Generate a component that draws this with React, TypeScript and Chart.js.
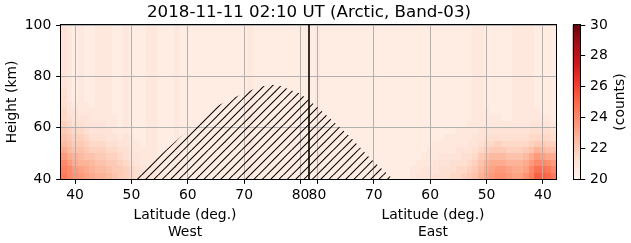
import React, { useEffect, useRef } from "react";
import { Chart, registerables } from "chart.js";

Chart.register(...registerables);

// ---------------- text ----------------
const TITLE = "2018-11-11 02:10 UT (Arctic, Band-03)";
const X_LABEL = "Latitude (deg.)";
const WEST_LABEL = "West";
const EAST_LABEL = "East";
const Y_LABEL = "Height (km)";
const COLORBAR_LABEL = "(counts)";

// ---------------- data ----------------
// Along-track axis: starts at EDGE_LAT (west), climbs to TURN_LAT, goes down to EDGE_LAT (east)
const EDGE_LAT = 37.5;
const TURN_LAT = 81.5;
const WEST_TICK_LATS = [40, 50, 60, 70, 80];
const EAST_TICK_LATS = [80, 70, 60, 50, 40];
const HEIGHT_TICKS = [40, 60, 80, 100];
const HEIGHT_RANGE = [40, 100];
const COUNT_TICKS = [20, 22, 24, 26, 28, 30];
const COUNT_RANGE = [20, 30];

// Heatmap cells: 1 deg along track, 2.5 km in height, rows from 100 km down to 40 km.
// Each char is a level: counts = 20 + index * 0.25
const CELL_DEG = 1;
const CELL_KM = 2.5;
const LEVEL_CODES = "0123456789ABCDEFGHIJKLMNOP";
const LEVEL_STEP = 0.25;

// west columns (track 0..16)
const HEAT_WEST = [
  "4323223332232223",
  "4323223332232223",
  "4323223332232223",
  "4323223332232223",
  "4323223332232223",
  "4323223332232223",
  "4323223332232223",
  "4323223332232223",
  "4323223332232223",
  "4323223332232223",
  "5323223332232223",
  "5323223332232223",
  "5433323332232223",
  "6443333332232223",
  "6544433333232223",
  "7655444433232223",
  "8766544443332223",
  "9877655544343223",
  "A988766655443323",
  "CA99877766554333",
  "ECBA998877654433",
  "GECBBA9988765433",
  "HGEDCBAA98876543",
  "IGFEDCBBA9876544",
];

// middle columns (track 16..62)
const HEAT_MID = [
  "3222 3 222222222222 3 22222222222 3 2222222222222222",
  "3222 3 222222222222 3 22222222222 3 2222222222222222",
  "3222 3 222222222222 3 22222222222 3 2222222222222222",
  "3222 3 222222222222 3 22222222222 3 2222222222222222",
  "3222 3 222222222222 3 22222222222 3 2222222222222222",
  "3222 3 222222222222 3 22222222222 3 2222222222222222",
  "3222 3 222222222222 3 22222222222 3 2222222222222222",
  "3222 3 222222222222 3 22222222222 3 2222222222222222",
  "3222 3 222222222222 3 22222222222 3 2222222222222222",
  "3222 3 222222222222 3 22222222222 3 2222222222222222",
  "3222 3 222222222222 3 22222222222 3 2222222222222222",
  "3222 3 222222222222 3 22222222222 3 2222222222222222",
  "3222 3 222222222222 3 22222222222 3 2222222222222222",
  "3222 3 222222222222 3 22222222222 3 2222222222222222",
  "3222 3 222222222222 3 22222222222 3 2222222222222222",
  "3222 3 222222222222 3 22222222222 3 2222222222222222",
  "3222 3 222222222222 3 22222222222 3 2222222222222222",
  "3222 3 222222222222 3 22222222222 3 2222222222222222",
  "3222 3 222222222222 3 22222222222 3 2222222222222222",
  "3222 3 222222222222 3 22222222222 3 2222222222222222",
  "3222 3 222222222222 3 22222222222 3 2222222222222222",
  "3222 3 222222222222 3 22222222222 3 2222222222222222",
  "3322 3 222222222222 3 22222222222 3 2222222222222222",
  "4332 3 222222222222 3 22222222222 3 2222222222222222",
];

// east columns (track 62..88)
const HEAT_EAST = [
  "22222222222 33 22222 3333 2222",
  "22222222222 33 22222 3333 2222",
  "22222222222 33 22222 3333 2222",
  "22222222222 33 22222 3333 2222",
  "22222222222 33 22222 3333 2222",
  "22222222222 33 22222 3333 2222",
  "22222222222 33 22222 3333 2222",
  "22222222222 33 22222 3333 2222",
  "22222222222 33 22222 3333 2222",
  "22222222222 33 22222 3333 2222",
  "22222222222 33 22222 3333 2222",
  "22222222222 33 22222 3333 2222",
  "22222222222 33 22222 3333 2222",
  "2222222222 2333222233333222",
  "2222222222 2333332233333332",
  "2222222222 3333333333344443",
  "2222222233 3344444444455554",
  "2222223333 3445555555566665",
  "2222333333 4456676666678877",
  "2223333344 456788877789BA99",
  "2233344445 5689AAA999ACEDCC",
  "2333444555 679BCCCBBBCEGGFE",
  "3344455566 78ACDEEDCCDGJJIG",
  "3444555667 89BDEFFEDDFHLLKI",
];

// hatched (masked) region outline: along-track degrees, height km
const HATCH_TRACK = [12.7, 20, 27, 30, 33, 35.5, 37.5, 39, 40.6, 42.2, 44.2, 47, 51.3, 54.8, 58.9];
const HATCH_KM = [40, 54, 67.7, 71, 74, 76, 76.7, 76.2, 74.8, 73.5, 70.4, 65, 56.5, 48.2, 40];

// ---------------- derived ----------------
const westTrack = (lat: number) => lat - EDGE_LAT;
const eastTrack = (lat: number) => 2 * TURN_LAT - EDGE_LAT - lat;
const TURN_TRACK = TURN_LAT - EDGE_LAT;
const TRACK_MAX = 2 * (TURN_LAT - EDGE_LAT);
const X_TICK_VALUES = [...WEST_TICK_LATS.map(westTrack), ...EAST_TICK_LATS.map(eastTrack)];
const X_TICK_LABELS = [...WEST_TICK_LATS, ...EAST_TICK_LATS].map(String);
const N_COLS = Math.round(TRACK_MAX / CELL_DEG);

const HEAT_ROWS: number[][] = HEAT_WEST.map((w, r) => {
  let s = (w + HEAT_MID[r] + HEAT_EAST[r]).replace(/\s+/g, "");
  while (s.length < N_COLS) s += "2";
  s = s.slice(0, N_COLS);
  return s.split("").map((ch) => COUNT_RANGE[0] + Math.max(0, LEVEL_CODES.indexOf(ch)) * LEVEL_STEP);
});

// ---------------- styles ----------------
const FONT = "DejaVu Sans";
const TICK_PX = 13.9;
const TITLE_PX = 16.67;
const REDS = ["#fff5f0", "#fee0d2", "#fcbba1", "#fc9272", "#fb6a4a", "#ef3b2c", "#cb181d", "#a50f15", "#67000d"];

function hexRgb(h: string) {
  return [parseInt(h.slice(1, 3), 16), parseInt(h.slice(3, 5), 16), parseInt(h.slice(5, 7), 16)];
}
function redsColor(v: number) {
  let t = (v - COUNT_RANGE[0]) / (COUNT_RANGE[1] - COUNT_RANGE[0]);
  t = Math.max(0, Math.min(1, t));
  const p = t * (REDS.length - 1);
  const i = Math.min(REDS.length - 2, Math.floor(p));
  const f = p - i;
  const a = hexRgb(REDS[i]);
  const b = hexRgb(REDS[i + 1]);
  const c = a.map((x, k) => Math.round(x + (b[k] - x) * f));
  return `rgb(${c[0]},${c[1]},${c[2]})`;
}

function makeHatch() {
  const size = 25;
  const c = document.createElement("canvas");
  c.width = size;
  c.height = size;
  const g = c.getContext("2d")!;
  g.strokeStyle = "#000";
  g.lineWidth = 1.05;
  const step = size / 3;
  for (let k = -4; k <= 4; k++) {
    const o = k * step;
    g.beginPath();
    g.moveTo(o, size);
    g.lineTo(o + size, 0);
    g.stroke();
  }
  return g.createPattern(c, "repeat")!;
}

const heatmapPlugin = {
  id: "heatmap",
  beforeDraw(chart: any) {
    const { ctx } = chart;
    const xs = chart.scales.x;
    const ys = chart.scales.y;
    ctx.save();
    HEAT_ROWS.forEach((row, r) => {
      const yTop = Math.round(ys.getPixelForValue(HEIGHT_RANGE[1] - r * CELL_KM));
      const yBot = Math.round(ys.getPixelForValue(HEIGHT_RANGE[1] - (r + 1) * CELL_KM));
      row.forEach((v, c) => {
        const x0 = Math.round(xs.getPixelForValue(c * CELL_DEG));
        const x1 = Math.round(xs.getPixelForValue(Math.min((c + 1) * CELL_DEG, TRACK_MAX)));
        ctx.fillStyle = redsColor(v);
        ctx.fillRect(x0, yTop, x1 - x0, yBot - yTop);
      });
    });
    ctx.restore();
  },
};

const framePlugin = {
  id: "frame",
  afterDatasetsDraw(chart: any) {
    const { ctx, chartArea: a } = chart;
    ctx.save();
    ctx.strokeStyle = "#000";
    ctx.lineWidth = 1;
    const l = Math.round(a.left) + 0.5;
    const t = Math.round(a.top) - 0.5;
    const r = Math.round(a.right) - 0.5;
    const b = Math.round(a.bottom) + 0.5;
    ctx.strokeRect(l - 1, t, r - l + 1, b - t);
    ctx.restore();
  },
};

const mainTextPlugin = {
  id: "mainText",
  afterDraw(chart: any) {
    const { ctx, chartArea: a } = chart;
    const xs = chart.scales.x;
    ctx.save();
    ctx.fillStyle = "#000";
    ctx.textAlign = "center";
    ctx.textBaseline = "alphabetic";
    ctx.font = `${TITLE_PX}px "${FONT}"`;
    ctx.fillText(TITLE, (a.left + a.right) / 2, a.top - 8.3);
    ctx.font = `${TICK_PX}px "${FONT}"`;
    const wx = xs.getPixelForValue(TURN_TRACK / 2);
    const ex = xs.getPixelForValue(TURN_TRACK + (TRACK_MAX - TURN_TRACK) / 2);
    const y1 = a.bottom + 39.8;
    const y2 = y1 + 16.7;
    ctx.fillText(X_LABEL, wx, y1);
    ctx.fillText(WEST_LABEL, wx, y2);
    ctx.fillText(X_LABEL, ex, y1);
    ctx.fillText(EAST_LABEL, ex, y2);
    ctx.translate(16, (a.top + a.bottom) / 2);
    ctx.rotate(-Math.PI / 2);
    ctx.fillText(Y_LABEL, 0, 0);
    ctx.restore();
  },
};

const colorbarPlugin = {
  id: "colorbar",
  beforeDatasetsDraw(chart: any) {
    const { ctx, chartArea: a } = chart;
    const ys = chart.scales.y;
    const y0 = ys.getPixelForValue(COUNT_RANGE[0]);
    const y1 = ys.getPixelForValue(COUNT_RANGE[1]);
    const grad = ctx.createLinearGradient(0, y0, 0, y1);
    REDS.forEach((c, i) => grad.addColorStop(i / (REDS.length - 1), c));
    ctx.save();
    ctx.fillStyle = grad;
    ctx.fillRect(a.left, a.top, a.right - a.left, a.bottom - a.top);
    ctx.strokeStyle = "#000";
    ctx.lineWidth = 1;
    ctx.strokeRect(Math.round(a.left) + 0.5, Math.round(a.top) - 0.5, Math.round(a.right - a.left) - 1, Math.round(a.bottom - a.top) + 1);
    ctx.restore();
  },
  afterDraw(chart: any) {
    const { ctx, chartArea: a } = chart;
    ctx.save();
    ctx.fillStyle = "#000";
    ctx.font = `${TICK_PX}px "${FONT}"`;
    ctx.textAlign = "center";
    ctx.textBaseline = "alphabetic";
    ctx.translate(63.6, (a.top + a.bottom) / 2);
    ctx.rotate(-Math.PI / 2);
    ctx.fillText(COLORBAR_LABEL, 0, 0);
    ctx.restore();
  },
};

const tickFont = { family: FONT, size: TICK_PX };

export default function App() {
  const mainRef = useRef<HTMLCanvasElement>(null);
  const barRef = useRef<HTMLCanvasElement>(null);

  useEffect(() => {
    const hatch = makeHatch();
    const main = new Chart(mainRef.current!, {
      type: "line",
      data: {
        datasets: [
          {
            data: HATCH_TRACK.map((x, i) => ({ x, y: HATCH_KM[i] })),
            fill: "start",
            backgroundColor: hatch as any,
            borderColor: "rgba(0,0,0,0)",
            borderWidth: 0,
            pointRadius: 0,
            tension: 0,
          },
          {
            data: [
              { x: TURN_TRACK, y: HEIGHT_RANGE[0] },
              { x: TURN_TRACK, y: HEIGHT_RANGE[1] },
            ],
            borderColor: "#000",
            borderWidth: 1.6,
            pointRadius: 0,
            fill: false,
          },
        ],
      },
      options: {
        responsive: false,
        animation: false,
        devicePixelRatio: 1,
        events: [],
        layout: { padding: { left: 0, top: 25, right: 74, bottom: 0 } },
        plugins: { legend: { display: false }, title: { display: false }, tooltip: { enabled: false } },
        scales: {
          x: {
            type: "linear",
            min: 0,
            max: TRACK_MAX,
            afterBuildTicks: (s: any) => {
              s.ticks = X_TICK_VALUES.map((value) => ({ value }));
            },
            afterFit: (s: any) => {
              s.height = 64;
            },
            ticks: {
              autoSkip: false,
              maxRotation: 0,
              minRotation: 0,
              padding: 3,
              color: "#000",
              font: tickFont,
              callback: (_v: any, i: number) => X_TICK_LABELS[i],
            },
            grid: { color: "#b0b0b0", lineWidth: 1, tickColor: "#000", tickLength: 4.86, tickWidth: 1 },
            border: { display: false },
          },
          y: {
            type: "linear",
            min: HEIGHT_RANGE[0],
            max: HEIGHT_RANGE[1],
            afterBuildTicks: (s: any) => {
              s.ticks = HEIGHT_TICKS.map((value) => ({ value }));
            },
            afterFit: (s: any) => {
              s.width = 61;
            },
            ticks: { padding: 4.86, color: "#000", font: tickFont, callback: (v: any) => String(v) },
            grid: { color: "#b0b0b0", lineWidth: 1, tickColor: "#000", tickLength: 4.86, tickWidth: 1 },
            border: { display: false },
          },
        },
      },
      plugins: [heatmapPlugin, framePlugin, mainTextPlugin],
    } as any);

    const bar = new Chart(barRef.current!, {
      type: "line",
      data: { datasets: [] },
      options: {
        responsive: false,
        animation: false,
        devicePixelRatio: 1,
        events: [],
        layout: { padding: { left: 12.7, top: 25, right: 0, bottom: 64 } },
        plugins: { legend: { display: false }, title: { display: false }, tooltip: { enabled: false } },
        scales: {
          x: { type: "linear", display: false, min: 0, max: 1 },
          y: {
            type: "linear",
            position: "right",
            min: COUNT_RANGE[0],
            max: COUNT_RANGE[1],
            afterBuildTicks: (s: any) => {
              s.ticks = COUNT_TICKS.map((value) => ({ value }));
            },
            afterFit: (s: any) => {
              s.width = 71 - 20.4;
            },
            ticks: { padding: 4.86, color: "#000", font: tickFont, callback: (v: any) => String(v) },
            grid: { drawOnChartArea: false, tickColor: "#000", tickLength: 4.86, tickWidth: 1 },
            border: { display: false },
          },
        },
      },
      plugins: [colorbarPlugin],
    } as any);

    return () => {
      main.destroy();
      bar.destroy();
    };
  }, []);

  return (
    <div style={{ position: "fixed", left: 0, top: 0, width: 631, height: 243, background: "#fff" }}>
      <canvas ref={mainRef} width={631} height={243} style={{ position: "absolute", left: 0, top: 0, width: 631, height: 243 }} />
      <canvas ref={barRef} width={71} height={243} style={{ position: "absolute", left: 560, top: 0, width: 71, height: 243 }} />
    </div>
  );
}
